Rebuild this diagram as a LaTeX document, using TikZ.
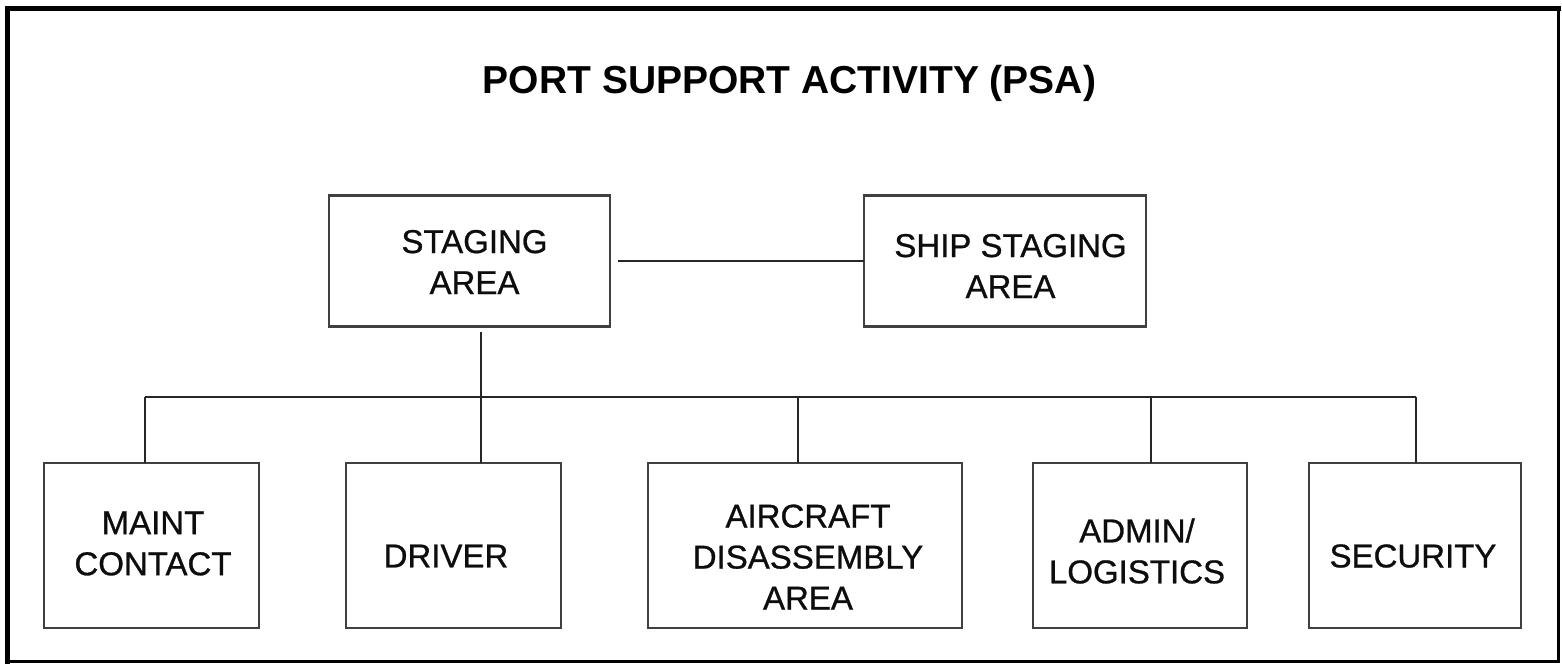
\documentclass[tikz,border=0pt]{standalone}
\usepackage{fontspec}
\setmainfont{Liberation Sans}
\newfontfamily\boxfont[FakeBold=0.8]{Liberation Sans}
\begin{document}
\begin{tikzpicture}[x=1pt,y=-1pt,
  box/.style={draw=black!75, line width=2.2pt, fill=white, inner sep=0pt, outer sep=0pt},
  txt/.style={font=\boxfont\fontsize{33}{41}\selectfont, align=center, inner sep=0pt, text=black!95},
  wire/.style={draw=black!85, line width=2pt},
  frameline/.style={draw=black, line cap=rect}]
\useasboundingbox (0,0) rectangle (1562,664);
\fill[white] (0,0) rectangle (1562,664);
% frame
\draw[frameline, line width=5pt] (7.5,661.5) -- (7.5,8.5) -- (1558.5,8.5);
\draw[frameline, line width=3pt] (1558.5,8.5) -- (1558.5,661.5) -- (7.5,661.5);
% title
\node[font=\fontsize{39}{45}\selectfont\bfseries, anchor=base, inner sep=0pt] (title) at (789.5,93) {PORT SUPPORT ACTIVITY (PSA)};
% upper boxes
\node[box, minimum width=281pt, minimum height=131pt,
  label={[txt, shift={(5,1)}]center:STAGING\\AREA}] (staging) at (469.5,261) {};
\node[box, minimum width=282pt, minimum height=131pt,
  label={[txt, shift={(5.5,5)}]center:SHIP STAGING\\AREA}] (ship) at (1005,261) {};
% lower boxes
\node[box, minimum width=215pt, minimum height=165pt,
  label={[txt, shift={(1.5,-2)}]center:MAINT\\CONTACT}] (maint) at (151.5,545.5) {};
\node[box, minimum width=215pt, minimum height=165pt,
  label={[txt, shift={(-7.5,10.5)}]center:DRIVER}] (driver) at (453.5,545.5) {};
\node[box, minimum width=314pt, minimum height=165pt,
  label={[txt, shift={(3,11.5)}]center:AIRCRAFT\\DISASSEMBLY\\AREA}] (aircraft) at (805,545.5) {};
\node[box, minimum width=214pt, minimum height=165pt,
  label={[txt, shift={(-3,5.5)}]center:ADMIN/\\LOGISTICS}] (admin) at (1140,545.5) {};
\node[box, minimum width=212pt, minimum height=165pt,
  label={[txt, shift={(-2,10.5)}]center:SECURITY}] (security) at (1415,545.5) {};
% bus coordinates
\coordinate (bl) at (145,397);
\coordinate (bc) at (481,397);
\coordinate (ba) at (798,397);
\coordinate (bd) at (1151,397);
\coordinate (br) at (1416,397);
% connectors
\draw[wire] ([xshift=8pt]staging.east) -- (ship.west);
\draw[wire] ([yshift=-5pt]staging.south -| bc) -- (driver.north -| bc);
\draw[wire] (bl) -- (br);
\draw[wire] (bl) -- (maint.north -| bl);
\draw[wire] (ba) -- (aircraft.north -| ba);
\draw[wire] (bd) -- (admin.north -| bd);
\draw[wire] (br) -- (security.north -| br);
\end{tikzpicture}
\end{document}
